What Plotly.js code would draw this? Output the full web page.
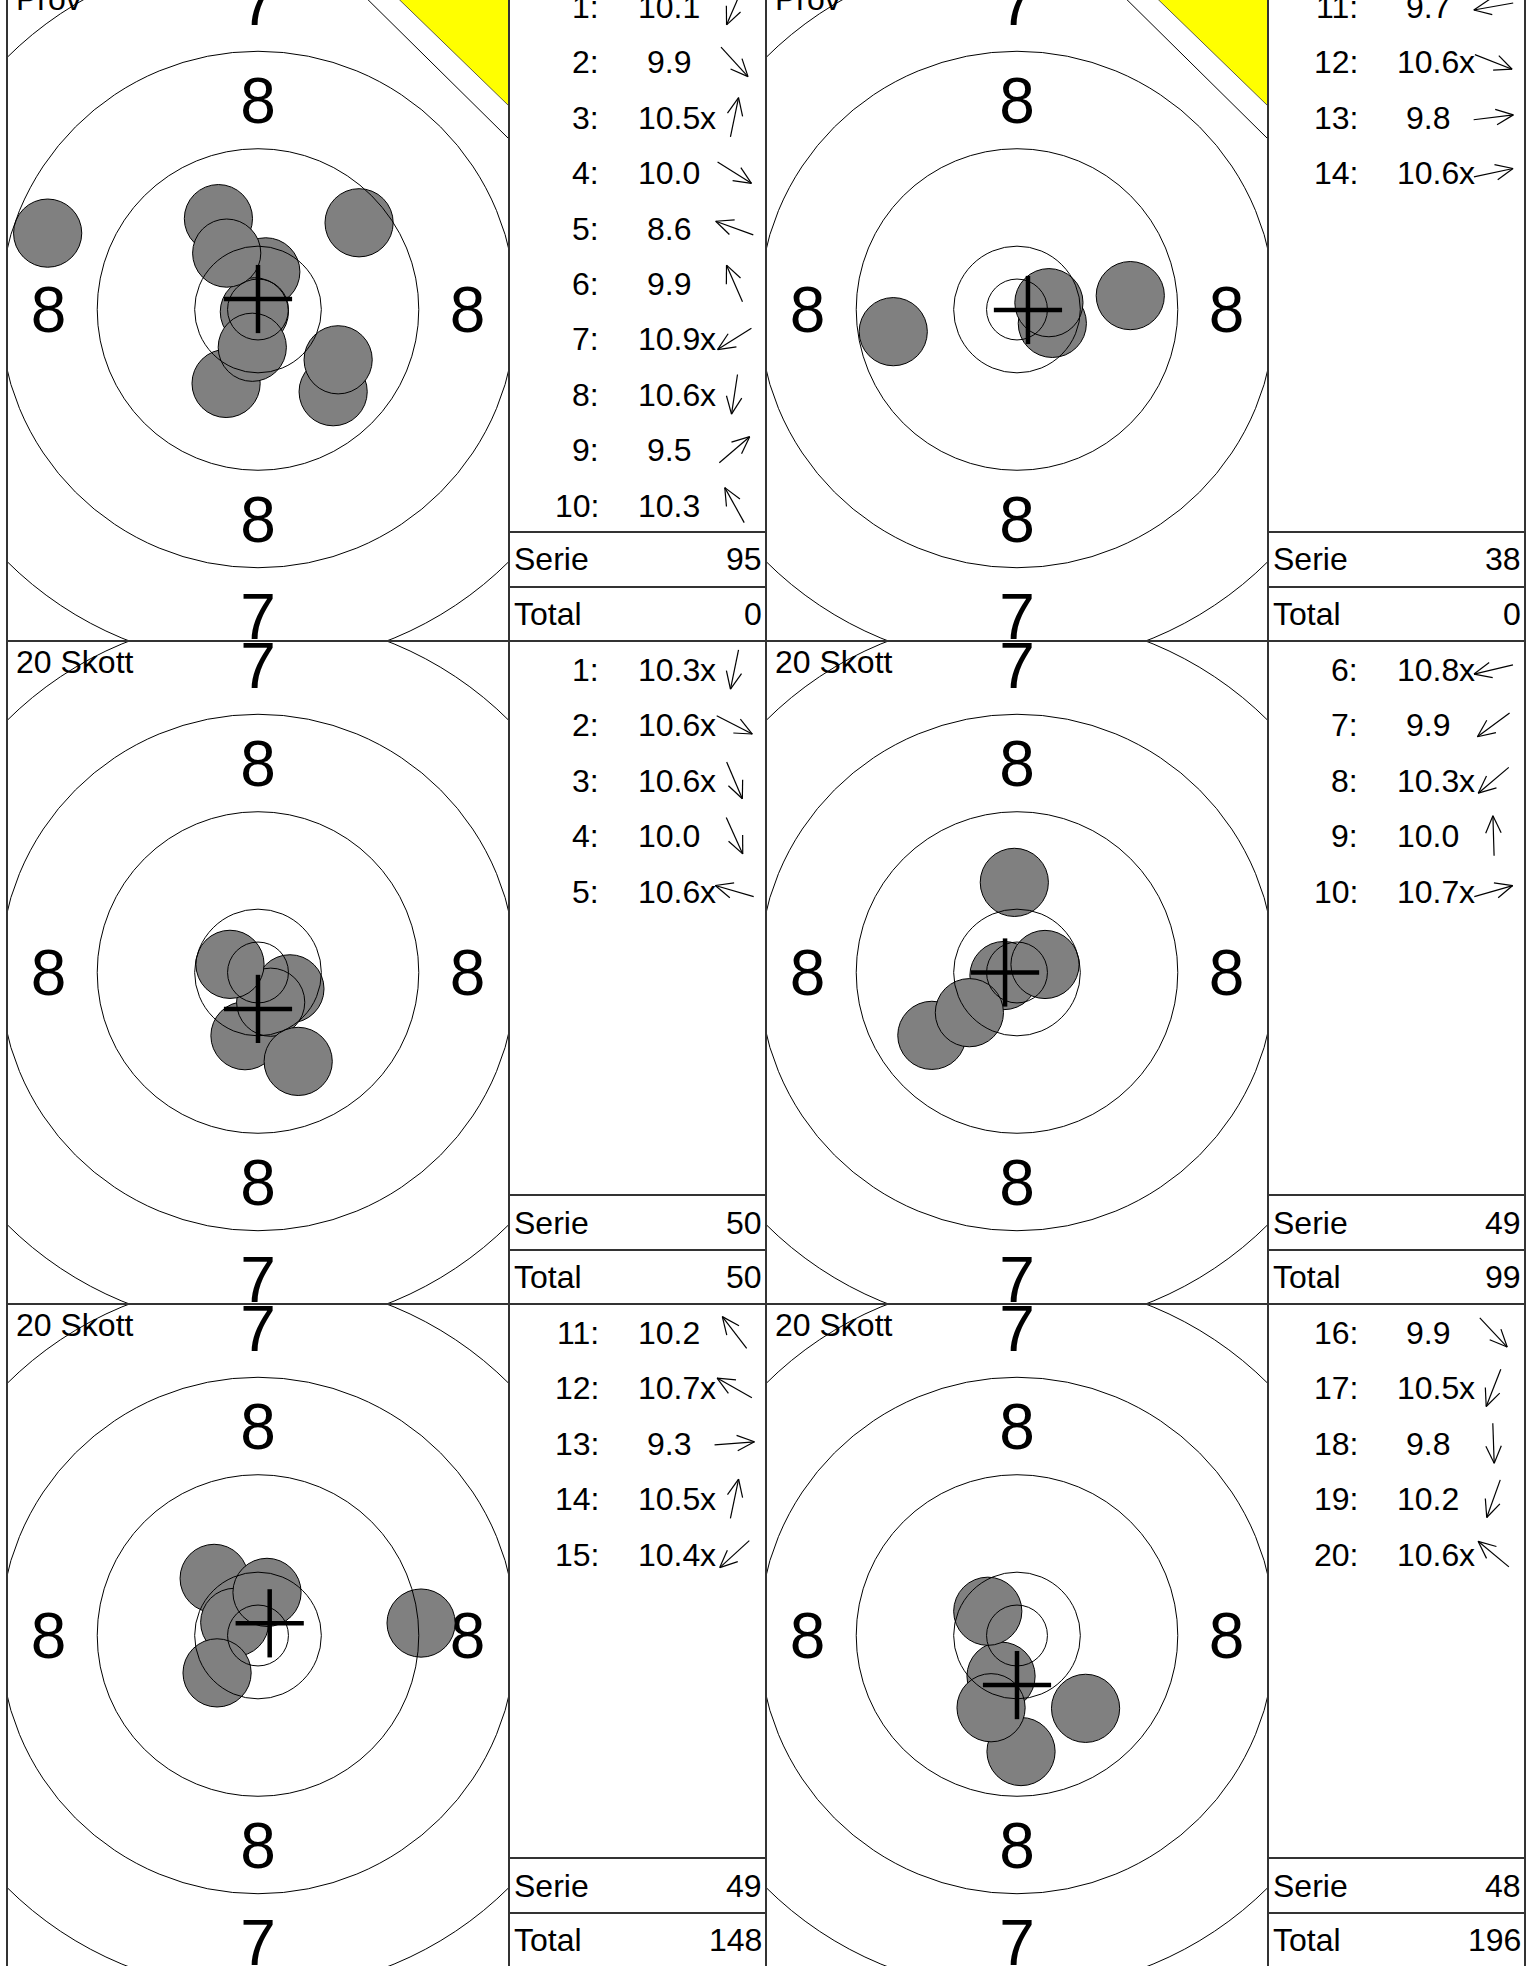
<!DOCTYPE html>
<html>
<head>
<meta charset="utf-8">
<script src="https://cdn.plot.ly/plotly-3.0.1.min.js"></script>
<style>
html,body{margin:0;padding:0;background:#fff;}
#chart{width:1526px;height:1966px;}
</style>
</head>
<body>
<div id="chart"></div>
<script>
// ================= DATA =================
const panelTitles = ['Prov', 'Prov', '20 Skott', '20 Skott', '20 Skott', '20 Skott'];
const firstShotNo = [1, 11, 1, 6, 11, 16];

// shot centres in mm from target centre (x right, y up)
const shotsX_A = [-2.62, 6.17, 0.64, 6.58, -17.27, -3.25, -0.30, -0.47, 8.30, -2.57];
const shotsY_A = [-6.07, -6.75, 3.09, -4.13, 6.27, 7.46, -0.19, -3.10, 7.12, 4.63];
const scores_A = ['10.1', '9.9', '10.5x', '10.0', '8.6', '9.9', '10.9x', '10.6x', '9.5', '10.3'];

const shotsX_B = [-10.16, 2.90, 9.30, 2.62];
const shotsY_B = [-1.82, -1.14, 1.14, 0.56];
const scores_B = ['9.7', '10.6x', '9.8', '10.6x'];

const shotsX_C = [-1.07, 2.62, 1.04, 3.30, -2.30];
const shotsY_C = [-5.19, -1.34, -2.44, -7.30, 0.67];
const scores_C = ['10.3x', '10.6x', '10.6x', '10.0', '10.6x'];

const shotsX_D = [-1.07, -6.99, -3.91, -0.22, 2.30];
const shotsY_D = [-0.25, -5.16, -3.30, 7.40, 0.66];
const scores_D = ['10.8x', '9.9', '10.3x', '10.0', '10.7x'];

const shotsX_E = [-3.60, -1.91, 13.39, 0.74, -3.36];
const shotsY_E = [4.69, 1.08, 1.02, 3.54, -3.07];
const scores_E = ['10.2', '10.7x', '9.3', '10.5x', '10.4x'];

const shotsX_F = [5.63, -1.31, 0.33, -2.13, -2.40];
const shotsY_F = [-5.98, -3.34, -9.53, -5.93, 1.99];
const scores_F = ['9.9', '10.5x', '9.8', '10.2', '10.6x'];

// group centre crosses (mm)
const groupX = [0.00, 0.90, 0.00, -0.98, 0.96, 0.00];
const groupY = [0.86, -0.04, -2.99, 0.00, 1.00, -4.07];

const serie = [95, 38, 50, 49, 49, 48];
const total = [0, 0, 50, 99, 148, 196];

// target design (mm)
const ringRadii = [2.5, 5.2, 13.2, 21.2, 29.2];
const bulletRadius = 2.8;
const labelText = ['8', '8', '8', '8', '7', '7'];
const labelX = [0, -17.2, 17.2, 0, 0, 0];
const labelY = [17.2, 0, 0, -17.2, 25.2, -25.2];

// ================= LAYOUT CONSTANTS =================
const W = 1526, H = 1966;
const S = 12.18;            // px per mm
const colLeft = [7, 766];
const targetW = 502, tableW = 257;
const rowTop = [-22, 641, 1304];
const panelH = 663;
const FONT = 'Liberation Sans, Arial, Helvetica, sans-serif';
const LINEC = '#333';
const labelDropPx = 6.5;    // optical correction of big ring numerals

const panels = [
  {x: shotsX_A, y: shotsY_A, s: scores_A},
  {x: shotsX_B, y: shotsY_B, s: scores_B},
  {x: shotsX_C, y: shotsY_C, s: scores_C},
  {x: shotsX_D, y: shotsY_D, s: scores_D},
  {x: shotsX_E, y: shotsY_E, s: scores_E},
  {x: shotsX_F, y: shotsY_F, s: scores_F}
];

const traces = [];
const shapes = [];
const annotations = [];
const layout = {
  width: W, height: H,
  margin: {l: 0, r: 0, t: 0, b: 0, pad: 0},
  paper_bgcolor: '#ffffff', plot_bgcolor: 'rgba(0,0,0,0)',
  showlegend: false,
  font: {family: FONT, color: '#000'}
};

const axId = (k) => (k === 1 ? '' : String(k));
const arrowX = [], arrowY = [];

function ann(text, x, y, xanchor, size) {
  annotations.push({
    xref: 'paper', yref: 'paper', x: x / W, y: 1 - y / H, text: text, showarrow: false,
    xanchor: xanchor, yanchor: 'middle',
    font: {family: FONT, size: size || 32, color: '#000'}
  });
}

panels.forEach((P, p) => {
  const k = p + 1;
  const row = Math.floor(p / 2), col = p % 2;
  const L = colLeft[col], T = rowTop[row];
  const cx = L + targetW / 2, cy = T + panelH / 2;
  const top = Math.max(T, 0), bottom = Math.min(T + panelH, H);
  const xa = 'x' + axId(k), ya = 'y' + axId(k);

  layout['xaxis' + axId(k)] = {
    domain: [L / W, (L + targetW) / W],
    range: [(L - cx) / S, (L + targetW - cx) / S],
    visible: false, fixedrange: true, anchor: ya
  };
  layout['yaxis' + axId(k)] = {
    domain: [1 - bottom / H, 1 - top / H],
    range: [(cy - bottom) / S, (cy - top) / S],
    visible: false, fixedrange: true, anchor: xa
  };

  // ring labels
  traces.push({
    type: 'scatter', mode: 'text', x: labelX, y: labelY.map(v => v - labelDropPx / S), text: labelText,
    textposition: 'middle center', textfont: {family: FONT, size: 64, color: '#000'},
    xaxis: xa, yaxis: ya, hoverinfo: 'skip', cliponaxis: true
  });
  // shots
  traces.push({
    type: 'scatter', mode: 'markers', x: P.x, y: P.y,
    marker: {size: 2 * bulletRadius * S, color: '#808080', line: {color: '#000', width: 1}, opacity: 1},
    xaxis: xa, yaxis: ya, hoverinfo: 'skip', cliponaxis: true
  });
  // group cross
  const gx = groupX[p], gy = groupY[p], h = bulletRadius;
  traces.push({
    type: 'scatter', mode: 'lines',
    x: [gx - h, gx + h, null, gx, gx], y: [gy, gy, null, gy - h, gy + h],
    line: {color: '#000', width: 4.5}, xaxis: xa, yaxis: ya, hoverinfo: 'skip'
  });
  // rings
  ringRadii.forEach(r => shapes.push({
    type: 'circle', xref: xa, yref: ya, x0: -r, x1: r, y0: -r, y1: r,
    line: {color: '#000', width: 1}, fillcolor: 'rgba(0,0,0,0)', layer: 'above'
  }));

  // sighter corner
  const R = L + targetW;
  if (panelTitles[p] === 'Prov') {
    shapes.push({type: 'path', xref: 'x7', yref: 'y7', layer: 'above',
      path: `M ${R - 163} ${T} L ${R} ${T} L ${R} ${T + 161} Z`,
      fillcolor: '#ffffff', line: {color: '#000', width: 1}});
    shapes.push({type: 'path', xref: 'x7', yref: 'y7', layer: 'above',
      path: `M ${R - 132} ${T} L ${R} ${T} L ${R} ${T + 128} Z`,
      fillcolor: '#ffff00', line: {color: '#333', width: 0.8}});
  }

  // title
  ann(panelTitles[p], L + 7, T + 21, 'left', 32);

  // table rows
  const tL = R, tR = R + tableW;
  P.s.forEach((sc, i) => {
    const yc = T + 29 + 55.4 * i;
    const isX = sc.endsWith('x');
    const num = isX ? sc.slice(0, -1) : sc;
    ann((firstShotNo[p] + i) + ':', tL + 92, yc, 'right', 32);
    ann(num, tL + 160, yc, 'center', 32);
    if (isX) ann('x', tL + 188.5, yc, 'left', 32);
    // direction arrow from the shot position
    const th = Math.atan2(P.y[i], P.x[i]);
    const ux = Math.cos(th), uy = -Math.sin(th);
    const ax = tL + 225.5, ay = yc - 0.5;
    const len = 40, hl = 19, ha = 24 * Math.PI / 180;
    const tx = ax - ux * len / 2, ty = ay - uy * len / 2;
    const hx = ax + ux * len / 2, hy = ay + uy * len / 2;
    arrowX.push(tx, hx, null); arrowY.push(ty, hy, null);
    [ha, -ha].forEach(a => {
      const bx = -ux, by = -uy;
      const rx = bx * Math.cos(a) - by * Math.sin(a);
      const ry = bx * Math.sin(a) + by * Math.cos(a);
      arrowX.push(hx, hx + rx * hl, null); arrowY.push(hy, hy + ry * hl, null);
    });
  });
  // Serie / Total
  ann('Serie', tL + 2.5, T + 581.5, 'left', 32);
  ann(String(serie[p]), tR - 2, T + 581.5, 'right', 32);
  ann('Total', tL + 2.5, T + 636, 'left', 32);
  ann(String(total[p]), tR - 2, T + 636, 'right', 32);
  [554, 609].forEach(dy => shapes.push({type: 'line', xref: 'x7', yref: 'y7', layer: 'above',
    x0: tL, x1: tR, y0: T + dy, y1: T + dy, line: {color: LINEC, width: 2}}));
});

// frame lines
[7, 509, 766, 1268, 1525].forEach(xv => shapes.push({type: 'line', xref: 'x7', yref: 'y7', layer: 'above',
  x0: xv, x1: xv, y0: -30, y1: H + 10, line: {color: LINEC, width: 2}}));
[641, 1304].forEach(yv => shapes.push({type: 'line', xref: 'x7', yref: 'y7', layer: 'above',
  x0: 7, x1: 1525, y0: yv, y1: yv, line: {color: LINEC, width: 2}}));

traces.push({type: 'scatter', mode: 'lines', x: arrowX, y: arrowY,
  line: {color: '#000', width: 1.2}, xaxis: 'x7', yaxis: 'y7', hoverinfo: 'skip', connectgaps: false});

layout.xaxis7 = {domain: [0, 1], range: [0, W], visible: false, fixedrange: true, anchor: 'y7'};
layout.yaxis7 = {domain: [0, 1], range: [H, 0], visible: false, fixedrange: true, anchor: 'x7'};
layout.shapes = shapes;
layout.annotations = annotations;

Plotly.newPlot('chart', traces, layout, {staticPlot: true, displayModeBar: false});
</script>
</body>
</html>
